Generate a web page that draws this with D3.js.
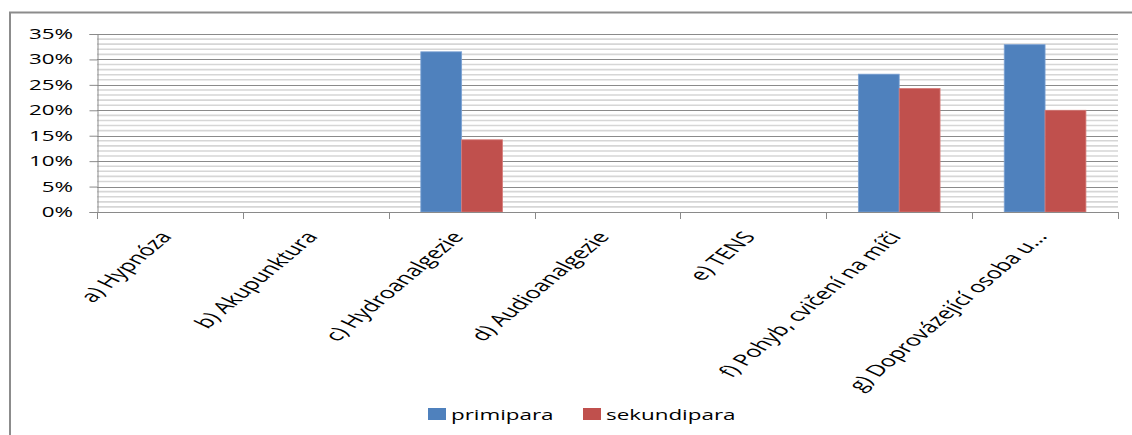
<!DOCTYPE html>
<html>
<head>
<meta charset="utf-8">
<script src="https://cdn.jsdelivr.net/npm/d3@7/dist/d3.min.js"></script>
<style>
  html, body { margin: 0; padding: 0; background: #fff; }
  svg { display: block; }
  text { font-family: "Open Sans", "DejaVu Sans", sans-serif; fill: #000; }
</style>
</head>
<body>
<svg id="chart" width="1132" height="435"></svg>
<script>
const categories = [
  "a) Hypnóza",
  "b) Akupunktura",
  "c) Hydroanalgezie",
  "d) Audioanalgezie",
  "e) TENS",
  "f) Pohyb, cvičení na míči",
  "g) Doprovázející osoba u..."
];
const seriesNames = ["primipara", "sekundipara"];
const primipara   = [0, 0, 0.315, 0, 0, 0.271, 0.329];
const sekundipara = [0, 0, 0.142, 0, 0, 0.243, 0.200];
const yTicks = [0, 0.05, 0.10, 0.15, 0.20, 0.25, 0.30, 0.35];
const yMinorTicks = d3.range(0, 36).map(i => i / 100);
const colors = ["#4F81BD", "#C0504D"];
const strokes = ["#7DA3D4", "#D67C79"];

const svg = d3.select("#chart");
const SX = 1.6;

const margin = { left: 97, right: 1118, top: 34, bottom: 212 };

const x = d3.scaleBand().domain(categories).range([margin.left, margin.right]).padding(0);
const step = x.bandwidth();
const x1 = d3.scaleBand().domain(seriesNames)
  .range([step * 0.22, step * 0.78]).padding(0);
const y = d3.scaleLinear().domain([0, 0.35]).range([margin.bottom, margin.top]);

// outer chart border (top and left visible)
svg.append("path")
  .attr("d", `M10,436 L10,12.5 L1133,12.5`)
  .attr("fill", "none").attr("stroke", "#8c8c8c").attr("stroke-width", 2);

// minor gridlines
svg.append("g").selectAll("line")
  .data(yMinorTicks.filter(v => Math.round(v * 100) % 5 !== 0))
  .join("line")
  .attr("x1", margin.left).attr("x2", margin.right)
  .attr("y1", d => y(d)).attr("y2", d => y(d))
  .attr("stroke", "#d6d6d6").attr("stroke-width", 1.6);

// major gridlines
svg.append("g").selectAll("line")
  .data(yTicks.filter(v => v > 0))
  .join("line")
  .attr("x1", margin.left).attr("x2", margin.right)
  .attr("y1", d => Math.round(y(d)) + 0.5).attr("y2", d => Math.round(y(d)) + 0.5)
  .attr("stroke", "#8a8a8a").attr("stroke-width", 1);

// bars
const data = categories.map((c, i) => ({ c, vals: [primipara[i], sekundipara[i]] }));
const groups = svg.append("g").selectAll("g").data(data).join("g")
  .attr("transform", d => `translate(${x(d.c)},0)`);
groups.selectAll("rect")
  .data(d => d.vals.map((v, j) => ({ v, s: seriesNames[j], j })).filter(e => e.v > 0))
  .join("rect")
  .attr("x", d => x1(d.s))
  .attr("width", x1.bandwidth())
  .attr("y", d => y(d.v))
  .attr("height", d => y(0) - y(d.v))
  .attr("fill", d => colors[d.j])
  .attr("stroke", d => strokes[d.j])
  .attr("stroke-width", 0.8);

// y axis line and ticks
const yAxis = d3.axisLeft(y).tickValues(yTicks).tickSize(8).tickFormat("");
const gy = svg.append("g").attr("transform", `translate(${margin.left + 0.5},0)`).call(yAxis);
gy.select(".domain").attr("stroke", "#8a8a8a");
gy.selectAll(".tick line").attr("stroke", "#8a8a8a");

// y tick labels (stretched)
svg.append("g").selectAll("text").data(yTicks).join("text")
  .attr("transform", d => `translate(73,${y(d) + 5}) scale(${SX},1)`)
  .attr("text-anchor", "end")
  .style("font-size", "14px")
  .text(d => d3.format(".0%")(d));

// x axis line and ticks at category boundaries
const boundaries = categories.map(c => x(c)).concat([margin.right]);
svg.append("line")
  .attr("x1", margin.left).attr("x2", margin.right)
  .attr("y1", y(0) + 0.5).attr("y2", y(0) + 0.5)
  .attr("stroke", "#8a8a8a");
svg.append("g").selectAll("line").data(boundaries).join("line")
  .attr("x1", d => Math.round(d) + 0.5).attr("x2", d => Math.round(d) + 0.5)
  .attr("y1", y(0)).attr("y2", y(0) + 7)
  .attr("stroke", "#8a8a8a");

// x category labels (rotated, then stretched horizontally like the reference)
svg.append("g").selectAll("text").data(categories).join("text")
  .attr("transform", d => `translate(${x(d) + step / 2 + 3},237) scale(${SX},1) rotate(-53)`)
  .attr("text-anchor", "end")
  .style("font-size", "16px")
  .text(d => d);

// legend
const legendX = [428, 583];
const lg = svg.append("g").selectAll("g").data(seriesNames).join("g");
lg.append("rect")
  .attr("x", (d, i) => legendX[i]).attr("y", 408)
  .attr("width", 18).attr("height", 12)
  .attr("fill", (d, i) => colors[i]);
lg.append("text")
  .attr("transform", (d, i) => `translate(${legendX[i] + 23},420) scale(${SX},1)`)
  .style("font-size", "14px")
  .text(d => d);
</script>
</body>
</html>
